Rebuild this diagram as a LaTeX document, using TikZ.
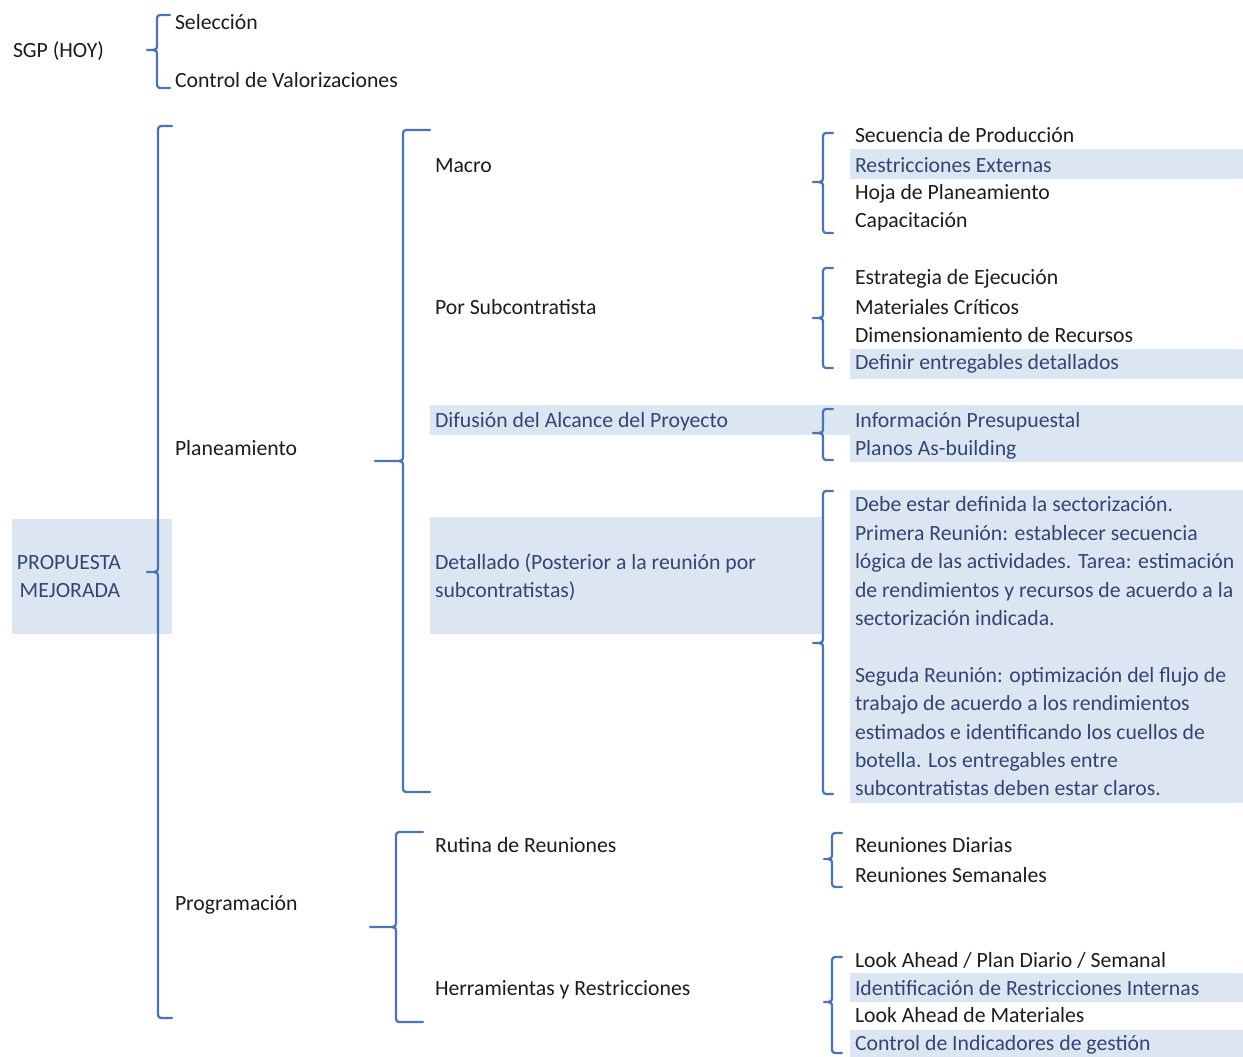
\documentclass[tikz,border=0pt]{standalone}
\usepackage{fontspec}
\setmainfont{Carlito}
\definecolor{bandfill}{RGB}{220,230,242}
\definecolor{bluetext}{RGB}{50,70,115}
\definecolor{normtext}{RGB}{28,28,32}
\definecolor{bracecol}{RGB}{76,115,178}
\newcommand\mybrace[6]{% x, top, tip, bot, hookx, tipx
  \draw[bracestyle] (#5,#2) -- ({#1+3},#2) to[out=180,in=90] (#1,{#2+3})
    -- (#1,{#3-5}) .. controls (#1,{#3-1}) and ({#1-1},#3) .. ({#1-4},#3) -- (#6,#3)
    ({#1-4},#3) .. controls ({#1-1},#3) and (#1,{#3+1}) .. (#1,{#3+5})
    -- (#1,{#4-3}) to[out=-90,in=180] ({#1+3},#4) -- (#5,#4);}
\tikzset{
  bracestyle/.style={draw=bracecol, line width=1.7pt, line cap=round, line join=round},
  band/.style={fill=bandfill, draw=none},
  lbl/.style={anchor=base west, inner sep=0pt, outer sep=0pt, text=normtext, font=\fontsize{16.3}{21}\selectfont},
  blbl/.style={lbl, text=bluetext},
}
\begin{document}
\begin{tikzpicture}[x=0.75pt, y=-0.75pt]
\useasboundingbox (0,0) rectangle (1243,1057);
\fill[white] (0,0) rectangle (1243,1057);
% highlight bands
\fill[band] (12,519) rectangle (172,634);
\fill[band] (430,405) rectangle (1243,435);
\fill[band] (850,435) rectangle (1243,462);
\fill[band] (430,517) rectangle (822,634);
\fill[band] (850,490) rectangle (1243,803);
\fill[band] (850,149) rectangle (1243,179);
\fill[band] (850,349) rectangle (1243,379);
\fill[band] (850,973) rectangle (1243,1002);
\fill[band] (850,1030) rectangle (1243,1057);
% braces
\mybrace{157}{15}{50}{88}{170}{147}
\mybrace{158}{126}{572}{1018}{172}{147}
\mybrace{403}{130}{461}{792}{430}{375}
\mybrace{823}{133}{182}{233}{833}{813}
\mybrace{823}{268}{318}{368}{833}{813}
\mybrace{823}{409}{433}{460}{833}{813}
\mybrace{823}{491}{643}{794}{833}{813}
\mybrace{396}{832}{927}{1022}{423}{370}
\mybrace{832}{833}{859}{887}{842}{824}
\mybrace{832}{957}{1002}{1053}{842}{824}
% column 1
\node[lbl] (sgp) at (13,57) {SGP (HOY)};
\node[blbl, anchor=base] (prop1) at (69,569) {PROPUESTA};
\node[blbl, anchor=base] (prop2) at (70,597) {MEJORADA};
% column 2
\node[lbl] (sel) at (175,29) {Selección};
\node[lbl] (cval) at (175,87) {Control de Valorizaciones};
\node[lbl] (plan) at (175,455) {Planeamiento};
\node[lbl] (prog) at (175,910) {Programación};
% column 3
\node[lbl] (macro) at (435,172) {Macro};
\node[lbl] (porsub) at (435,314) {Por Subcontratista};
\node[blbl] (difu) at (435,427) {Difusión del Alcance del Proyecto};
\node[blbl] (det1) at (435,569) {Detallado (Posterior a la reunión por};
\node[blbl] (det2) at (435,597) {subcontratistas)};
\node[lbl] (rutina) at (435,852) {Rutina de Reuniones};
\node[lbl] (herr) at (435,995) {Herramientas y Restricciones};
% column 4
\node[lbl] (r1) at (855,142) {Secuencia de Producción};
\node[blbl] (r2) at (855,172) {Restricciones Externas};
\node[lbl] (r3) at (855,199) {Hoja de Planeamiento};
\node[lbl] (r4) at (855,227) {Capacitación};
\node[lbl] (r5) at (855,284) {Estrategia de Ejecución};
\node[lbl] (r6) at (855,314) {Materiales Críticos};
\node[lbl] (r7) at (855,342) {Dimensionamiento de Recursos};
\node[blbl] (r8) at (855,369) {Definir entregables detallados};
\node[blbl] (r9) at (855,427) {Información Presupuestal};
\node[blbl] (r10) at (855,455) {Planos As-building};
\node[blbl] (d1) at (855,511) {Debe estar definida la sectorización.};
\node[blbl] (d2) at (855,540) {Primera Reunión: establecer secuencia};
\node[blbl] (d3) at (855,568) {lógica de las actividades. Tarea: estimación};
\node[blbl] (d4) at (855,597) {de rendimientos y recursos de acuerdo a la};
\node[blbl] (d5) at (855,625) {sectorización indicada.};
\node[blbl] (d6) at (855,682) {Seguda Reunión: optimización del flujo de};
\node[blbl] (d7) at (855,710) {trabajo de acuerdo a los rendimientos};
\node[blbl] (d8) at (855,739) {estimados e identificando los cuellos de};
\node[blbl] (d9) at (855,767) {botella. Los entregables entre};
\node[blbl] (d10) at (855,795) {subcontratistas deben estar claros.};
\node[lbl] (r11) at (855,852) {Reuniones Diarias};
\node[lbl] (r12) at (855,882) {Reuniones Semanales};
\node[lbl] (r13) at (855,967) {Look Ahead / Plan Diario / Semanal};
\node[blbl] (r14) at (855,995) {Identificación de Restricciones Internas};
\node[lbl] (r15) at (855,1022) {Look Ahead de Materiales};
\node[blbl] (r16) at (855,1050) {Control de Indicadores de gestión};
\end{tikzpicture}
\end{document}
